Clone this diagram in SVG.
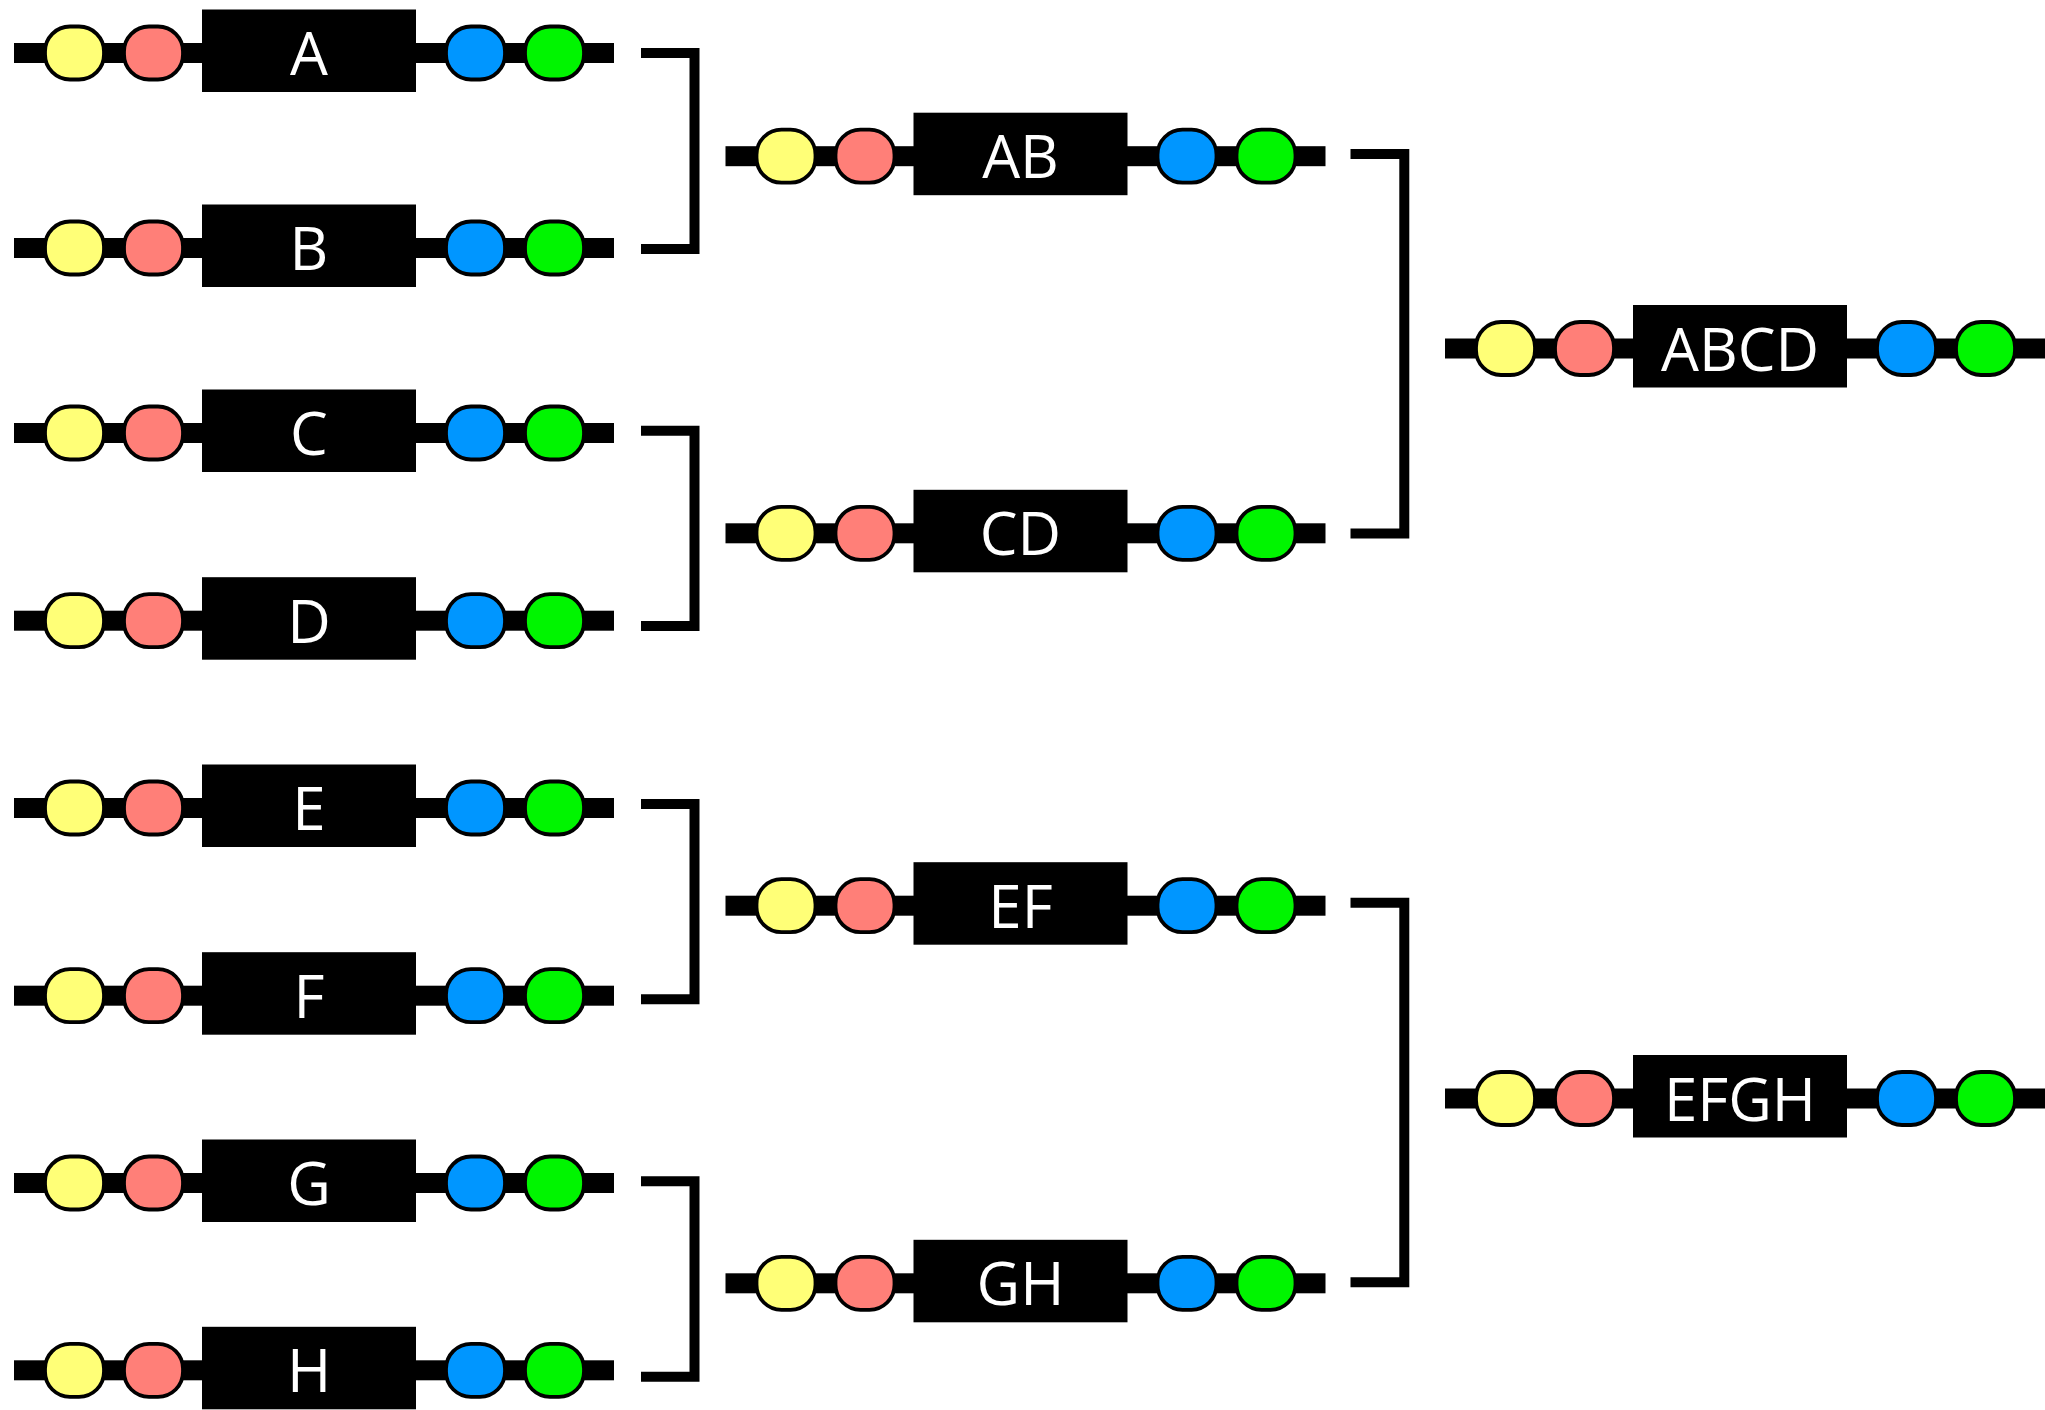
<svg xmlns="http://www.w3.org/2000/svg" xmlns:xlink="http://www.w3.org/1999/xlink" width="2045" height="1410" viewBox="0 0 2045 1410">
  <style>
    .bar { fill: #000; }
    .box { fill: #000; }
    .bead { stroke: #000; stroke-width: 3.8; }
    .y { fill: #ffff77; }
    .r { fill: #ff7f78; }
    .b { fill: #0096ff; }
    .g { fill: #00f500; }
    .label { fill: #fff; font-family: "Open Sans", "Liberation Sans", sans-serif; font-size: 60px; text-anchor: middle; }
    .bracket { fill: none; stroke: #000; stroke-width: 10; stroke-linejoin: miter; }
  </style>
  <defs>
    <g id="unit">
      <rect class="bar" x="0" y="-10" width="600" height="20"/>
      <rect class="bead y" x="31" y="-26.5" width="59" height="53" rx="25" ry="25"/>
      <rect class="bead r" x="110" y="-26.5" width="59" height="53" rx="25" ry="25"/>
      <rect class="box" x="188" y="-43.5" width="214" height="82.5"/>
      <rect class="bead b" x="432" y="-26.5" width="59" height="53" rx="25" ry="25"/>
      <rect class="bead g" x="511" y="-26.5" width="59" height="53" rx="25" ry="25"/>
    </g>
  </defs>
  <rect x="0" y="0" width="2045" height="1410" fill="#fff"/>

  <g id="connectors">
    <path class="bracket" d="M641,53 H694.5 V249 H641"/>
    <path class="bracket" d="M641,430.7 H694.5 V626 H641"/>
    <path class="bracket" d="M641,804 H694.5 V999.3 H641"/>
    <path class="bracket" d="M641,1181.3 H694.5 V1376.8 H641"/>
    <path class="bracket" d="M1350.5,154 H1404.3 V533.5 H1350.5"/>
    <path class="bracket" d="M1350.5,902.7 H1404.3 V1282.3 H1350.5"/>
  </g>

  <g id="node-A" transform="translate(14,53)"><use xlink:href="#unit" href="#unit"/><text class="label" x="295" y="22">A</text></g>
  <g id="node-B" transform="translate(14,248)"><use xlink:href="#unit" href="#unit"/><text class="label" x="295" y="22">B</text></g>
  <g id="node-C" transform="translate(14,433)"><use xlink:href="#unit" href="#unit"/><text class="label" x="295" y="22">C</text></g>
  <g id="node-D" transform="translate(14,620.7)"><use xlink:href="#unit" href="#unit"/><text class="label" x="295" y="22">D</text></g>
  <g id="node-E" transform="translate(14,808)"><use xlink:href="#unit" href="#unit"/><text class="label" x="295" y="22">E</text></g>
  <g id="node-F" transform="translate(14,995.7)"><use xlink:href="#unit" href="#unit"/><text class="label" x="295" y="22">F</text></g>
  <g id="node-G" transform="translate(14,1183)"><use xlink:href="#unit" href="#unit"/><text class="label" x="295" y="22">G</text></g>
  <g id="node-H" transform="translate(14,1370.3)"><use xlink:href="#unit" href="#unit"/><text class="label" x="295" y="22">H</text></g>

  <g id="node-AB" transform="translate(725.5,156.2)"><use xlink:href="#unit" href="#unit"/><text class="label" x="295" y="22">AB</text></g>
  <g id="node-CD" transform="translate(725.5,533.3)"><use xlink:href="#unit" href="#unit"/><text class="label" x="295" y="22">CD</text></g>
  <g id="node-EF" transform="translate(725.5,905.7)"><use xlink:href="#unit" href="#unit"/><text class="label" x="295" y="22">EF</text></g>
  <g id="node-GH" transform="translate(725.5,1283.3)"><use xlink:href="#unit" href="#unit"/><text class="label" x="295" y="22">GH</text></g>

  <g id="node-ABCD" transform="translate(1445,348.5)"><use xlink:href="#unit" href="#unit"/><text class="label" x="295" y="22">ABCD</text></g>
  <g id="node-EFGH" transform="translate(1445,1098.5)"><use xlink:href="#unit" href="#unit"/><text class="label" x="295" y="22">EFGH</text></g>
</svg>
